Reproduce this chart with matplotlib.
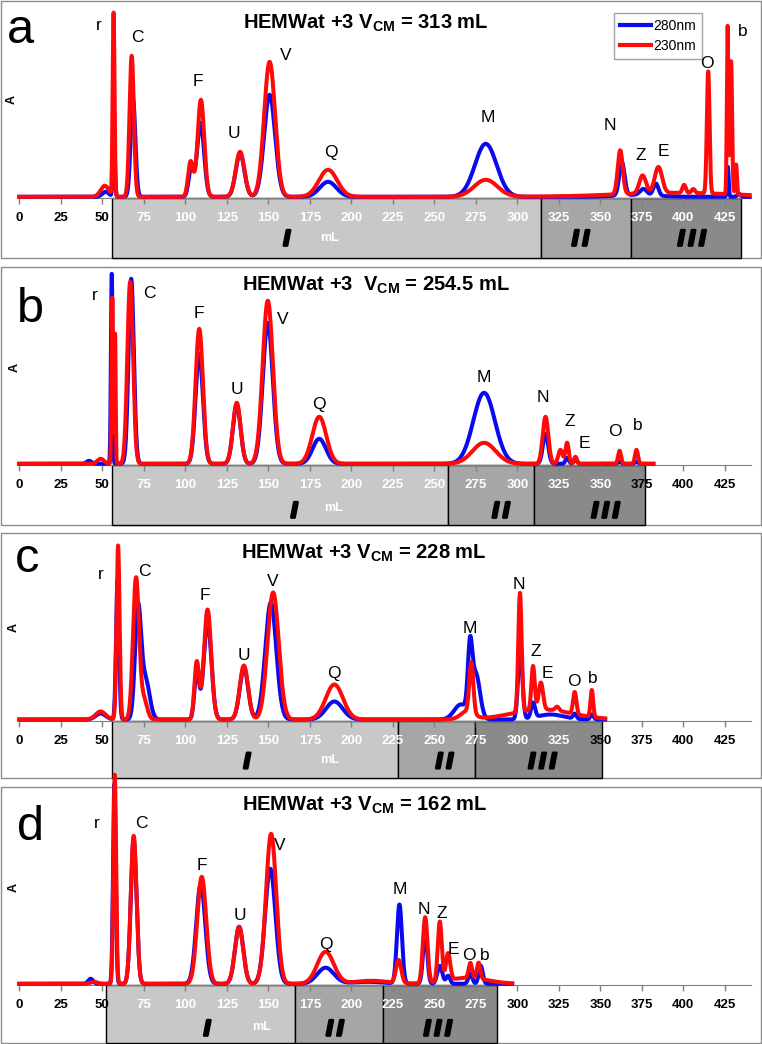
import numpy as np
import matplotlib
matplotlib.use("Agg")
import matplotlib.pyplot as plt
import matplotlib.patheffects as pe
from matplotlib.patches import Rectangle
from matplotlib.lines import Line2D

plt.rcParams["font.family"] = ["Liberation Sans", "DejaVu Sans"]
plt.rcParams["mathtext.fontset"] = "custom"
plt.rcParams["mathtext.rm"] = "Liberation Sans:bold"
plt.rcParams["mathtext.bf"] = "Liberation Sans:bold"

# ─── data ──────────────────────────────────────────────────────
PANEL_IDS    = ["a", "b", "c", "d"]
V_CM         = ["313", "254.5", "228", "162"]
TITLE_GAP    = [" ", "  ", " ", " "]
PEAK_NAMES   = ["r", "C", "F", "U", "V", "Q", "M", "N", "Z", "E", "O", "b"]
REGION_NAMES = ["I", "II", "III"]
XTICKS       = list(range(0, 426, 25))
TRACE_END    = [440, 382, 353, 297]          # mL where the record stops

# region limits, mL: start I | I/II | II/III | end III
REGIONS_A = [56, 314, 368.5, 435]
REGIONS_B = [56, 258, 310, 377]
REGIONS_C = [56, 228, 274.5, 351]
REGIONS_D = [52, 166, 219, 288]

# peaks: (centre mL, height A, width mL)
PEAKS_A_280 = [(52.0, 0.05, 2.0), (57.0, 0.60, 0.6), (68.5, 0.98, 1.4),
               (103.5, 0.28, 1.5), (109.2, 0.74, 2.1), (133.0, 0.43, 2.6),
               (150.8, 1.02, 3.3), (186.0, 0.15, 5.0), (281.0, 0.53, 6.5),
               (363.0, 0.33, 1.6), (376.0, 0.06, 2.0), (383.5, 0.12, 1.5),
               (372.0, 0.02, 12.0), (426.8, 0.30, 0.5), (433.5, 0.03, 1.0)]
PEAKS_A_230 = [(51.5, 0.11, 2.5), (56.8, 1.83, 0.55), (67.7, 1.41, 1.3),
               (103.2, 0.35, 1.5), (109.4, 0.97, 2.0), (133.0, 0.45, 2.6),
               (150.8, 1.35, 3.3), (186.0, 0.27, 5.5), (281.0, 0.17, 7.0),
               (395.0, 0.04, 35.0), (362.0, 0.44, 1.5), (375.5, 0.18, 2.0),
               (385.0, 0.26, 2.2), (400.5, 0.08, 1.0), (406.0, 0.04, 1.0),
               (415.0, 1.22, 0.8), (426.7, 1.68, 0.45), (428.8, 1.33, 0.6),
               (431.8, 0.30, 0.5)]

PEAKS_B_280 = [(42.0, 0.03, 1.5), (55.7, 1.90, 0.5), (67.4, 1.85, 1.6),
               (108.4, 1.10, 2.2), (131.0, 0.59, 2.3), (149.7, 1.41, 3.0),
               (180.7, 0.25, 4.0), (280.0, 0.71, 6.5), (317.0, 0.30, 1.6),
               (330.0, 0.06, 1.0), (335.0, 0.04, 1.0), (361.6, 0.02, 1.0),
               (371.8, 0.02, 1.0)]
PEAKS_B_230 = [(49.0, 0.05, 2.0), (56.0, 1.66, 0.45), (57.7, 1.30, 0.35),
               (66.8, 1.82, 1.7), (108.4, 1.35, 2.2), (131.0, 0.61, 2.3),
               (149.7, 1.63, 3.1), (180.7, 0.47, 4.2), (280.0, 0.21, 7.0),
               (317.0, 0.47, 1.7), (326.0, 0.14, 1.3), (330.0, 0.21, 1.0),
               (335.0, 0.07, 0.9), (361.6, 0.13, 0.9), (371.8, 0.14, 0.9)]

PEAKS_C_280 = [(49.0, 0.06, 3.0), (59.2, 1.40, 0.9), (71.5, 1.08, 1.8),
               (76.0, 0.40, 2.5), (106.9, 0.47, 1.4), (113.4, 0.98, 2.3),
               (135.3, 0.52, 2.5), (151.5, 1.17, 3.3), (189.8, 0.18, 5.0),
               (266.0, 0.15, 4.0), (271.5, 0.60, 1.3), (275.0, 0.45, 2.5),
               (301.8, 0.70, 1.3), (309.5, 0.15, 1.2), (320.0, 0.05, 8.0),
               (334.6, 0.05, 1.0), (345.0, 0.05, 1.0)]
PEAKS_C_230 = [(49.0, 0.08, 3.0), (59.5, 1.74, 0.9), (70.3, 1.41, 1.8),
               (75.0, 0.20, 2.0), (106.9, 0.57, 1.4), (113.4, 1.10, 2.2),
               (135.3, 0.54, 2.5), (152.9, 1.27, 3.4), (189.8, 0.35, 5.2),
               (270.0, 0.08, 4.0), (272.3, 0.50, 1.2), (315.0, 0.10, 18.0),
               (301.6, 1.19, 1.0), (309.5, 0.44, 1.0), (314.2, 0.27, 1.3),
               (324.0, 0.04, 1.2), (334.6, 0.22, 1.0), (344.9, 0.27, 0.8)]

PEAKS_D_280 = [(43.0, 0.05, 1.5), (57.3, 2.00, 0.8), (68.9, 1.45, 1.7),
               (109.3, 1.00, 2.7), (132.4, 0.57, 2.5), (151.2, 1.15, 3.1),
               (184.5, 0.16, 5.0), (210.0, 0.02, 10.0), (229.0, 0.79, 1.5),
               (244.5, 0.50, 1.3), (253.3, 0.18, 1.5), (258.3, 0.08, 1.2),
               (271.7, 0.10, 1.2), (278.0, 0.18, 1.2)]
PEAKS_D_230 = [(45.0, 0.02, 2.0), (57.5, 2.09, 0.8), (68.9, 1.48, 1.7),
               (109.9, 1.07, 2.7), (132.4, 0.57, 2.5), (151.7, 1.50, 3.1),
               (184.5, 0.32, 5.0), (212.0, 0.03, 10.0), (228.5, 0.23, 1.6),
               (244.5, 0.66, 1.4), (253.3, 0.60, 1.2), (258.3, 0.27, 1.3),
               (270.0, 0.06, 12.0), (271.7, 0.15, 1.0), (276.7, 0.16, 1.0)]

# peak-name positions (mL, A), same order as PEAK_NAMES
LABEL_X_A = [48.0, 71.1, 107.7, 129.3, 160.5, 187.8, 282.5, 355.8, 374.5, 388.2, 414.3, 435.8]
LABEL_Y_A = [1.73, 1.60, 1.17, 0.65, 1.43, 0.46, 0.81, 0.73, 0.42, 0.46, 1.35, 1.66]
LABEL_X_B = [45.5, 78.6, 108.3, 130.9, 158.9, 180.5, 279.9, 315.5, 331.7, 340.5, 358.7, 372.4]
LABEL_Y_B = [1.70, 1.72, 1.52, 0.75, 1.45, 0.60, 0.88, 0.68, 0.43, 0.22, 0.33, 0.40]
LABEL_X_C = [49.3, 75.3, 111.9, 135.6, 152.9, 189.8, 271.1, 301.0, 311.2, 318.0, 334.1, 345.5]
LABEL_Y_C = [1.46, 1.49, 1.25, 0.65, 1.39, 0.47, 0.92, 1.36, 0.69, 0.47, 0.39, 0.42]
LABEL_X_D = [46.9, 73.3, 109.9, 132.7, 156.7, 184.5, 229.3, 243.9, 254.7, 261.2, 270.8, 280.2]
LABEL_Y_D = [1.62, 1.61, 1.19, 0.70, 1.39, 0.40, 0.95, 0.75, 0.72, 0.36, 0.30, 0.30]

# ─── layout (pixels of the 762 x 1044 page) ────────────────────
FIG_W, FIG_H = 762, 1044
X0_PX, PX_PER_ML, PX_PER_A = 19.3, 1.66, 100.0
PANEL_TOP = [1, 267, 533, 787]
PANEL_BOT = [258, 525, 778, 1043]
AXIS_Y    = [198, 465, 720.7, 985]

TITLE_POS  = [(208.9, 1.75), (214.9, 1.80), (207.6, 1.67), (208.3, 1.80)]
LETTER_POS = [(-7.4, 1.55), (-1.4, 1.43), (-2.6, 1.49), (-1.4, 1.45)]
YLAB_POS   = [(-4.4, 0.98), (-2.6, 0.97), (-3.2, 0.93), (-3.2, 0.97)]
ROMAN_X    = [[161, 338, 405], [165.5, 290, 353], [137, 256, 315], [113, 190, 252]]
ROMAN_Y    = [-0.42, -0.47, -0.42, -0.45]
ML_POS     = [(187, -0.40), (189, -0.43), (187, -0.39), (146, -0.42)]

SHADES = ["#c8c8c8", "#a6a6a6", "#8a8a8a"]
BLUE, RED = "#0a0aee", "#ff0a0a"

regions = [REGIONS_A, REGIONS_B, REGIONS_C, REGIONS_D]
peaks   = [(PEAKS_A_280, PEAKS_A_230), (PEAKS_B_280, PEAKS_B_230),
           (PEAKS_C_280, PEAKS_C_230), (PEAKS_D_280, PEAKS_D_230)]
lab_x   = [LABEL_X_A, LABEL_X_B, LABEL_X_C, LABEL_X_D]
lab_y   = [LABEL_Y_A, LABEL_Y_B, LABEL_Y_C, LABEL_Y_D]


def trace(x, table):
    y = np.full_like(x, 0.012)
    for c, h, w in table:
        y += h * np.exp(-0.5 * ((x - c) / w) ** 2)
    return y


fig = plt.figure(figsize=(FIG_W / 100, FIG_H / 100), dpi=100)

for i, pid in enumerate(PANEL_IDS):
    top, bot, axy = PANEL_TOP[i], PANEL_BOT[i], AXIS_Y[i]
    ax = fig.add_axes([0, 1 - bot / FIG_H, 1, (bot - top) / FIG_H])
    ax.set_xlim(-X0_PX / PX_PER_ML, (FIG_W - X0_PX) / PX_PER_ML)
    ylo = -(bot - axy) / PX_PER_A
    ax.set_ylim(ylo, (axy - top) / PX_PER_A)
    ax.patch.set_alpha(0)

    # panel frame
    ax.add_patch(Rectangle((1 / FIG_W, 0), (FIG_W - 2.5) / FIG_W, 1,
                           transform=ax.transAxes, fill=False,
                           ec="#8c8c8c", lw=1, clip_on=False, zorder=0.5))

    # elution regions
    reg = regions[i]
    for k in range(3):
        ax.add_patch(Rectangle((reg[k], ylo), reg[k + 1] - reg[k], -ylo,
                               fc=SHADES[k], ec="black", lw=1,
                               zorder=1, clip_on=False))
        numeral = "\u2009".join(REGION_NAMES[k])   # spread the strokes a bit
        ax.text(ROMAN_X[i][k], ROMAN_Y[i], numeral, fontsize=16,
                fontweight="bold", style="italic", ha="center", va="center",
                zorder=5,
                path_effects=[pe.withStroke(linewidth=2.0, foreground="black")])
    ax.text(*ML_POS[i], "mL", color="white", fontsize=9, fontweight="bold",
            ha="center", va="center", zorder=5)

    # axis
    for s in ["top", "left", "right"]:
        ax.spines[s].set_visible(False)
    ax.spines["bottom"].set_position(("data", 0))
    ax.spines["bottom"].set_bounds(0, 441)
    ax.spines["bottom"].set_color("#808080")
    ax.set_yticks([])
    ax.set_xticks(XTICKS)
    ax.set_xticklabels([str(t) for t in XTICKS])
    ax.tick_params(axis="x", direction="out", length=4, width=1,
                   color="#808080", pad=6, labelsize=9.5)
    for t, lbl in zip(XTICKS, ax.get_xticklabels()):
        lbl.set_fontweight("bold")
        inside = reg[0] <= t - 4 and t + 4 <= reg[3]
        lbl.set_color("white" if inside else "black")

    # traces
    x = np.arange(0, TRACE_END[i], 0.05)
    p280, p230 = peaks[i]
    ax.plot(x, trace(x, p280), color=BLUE, lw=2.9, zorder=3,
            clip_on=False, label="280nm")
    ax.plot(x, trace(x, p230), color=RED, lw=2.9, zorder=4,
            clip_on=False, label="230nm")

    for name, lx, ly in zip(PEAK_NAMES, lab_x[i], lab_y[i]):
        ax.text(lx, ly, name, fontsize=12.5, ha="center", va="center", zorder=6)

    tx, ty = TITLE_POS[i]
    ax.text(tx, ty, f"HEMWat +3{TITLE_GAP[i]}V$_{{\\mathbf{{CM}}}}$ = {V_CM[i]} mL",
            fontsize=14.5, fontweight="bold", ha="center", va="center")
    ax.text(*LETTER_POS[i], pid, fontsize=35, ha="left", va="baseline")
    ax.text(*YLAB_POS[i], "A", fontsize=9, fontweight="bold", rotation=90,
            ha="center", va="center")

    if i == 0:
        handles = [Line2D([], [], color=BLUE, lw=3),
                   Line2D([], [], color=RED, lw=3)]
        leg = ax.legend(handles, ["280nm", "230nm"], loc="upper left",
                        bbox_to_anchor=(614 / FIG_W, 1 - 13 / FIG_H),
                        bbox_transform=fig.transFigure, fontsize=10,
                        frameon=True, fancybox=False, edgecolor="#8c8c8c",
                        handlelength=2.2, handletextpad=0.15,
                        labelspacing=0.4, borderpad=0.45, borderaxespad=0)
        leg.get_frame().set_linewidth(1)

fig.savefig("out.png", dpi=100)
